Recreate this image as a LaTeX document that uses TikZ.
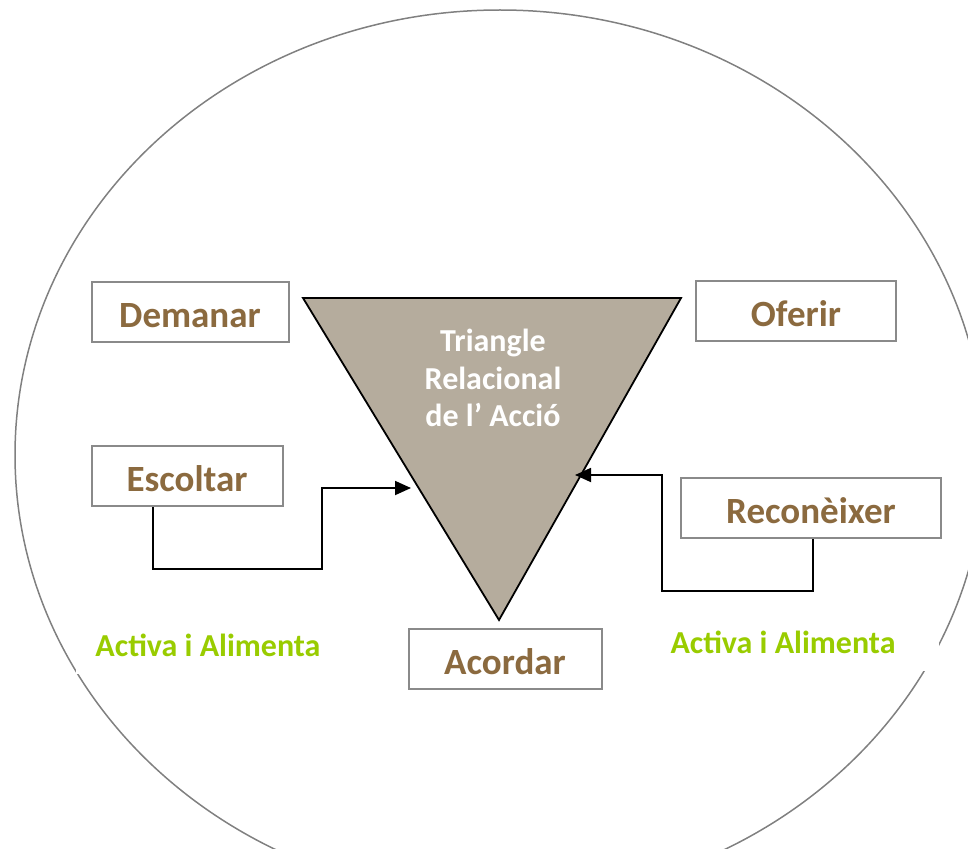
\documentclass[tikz,border=0pt]{standalone}
\usepackage{fontspec}
\setmainfont{Carlito}
\usepackage{tikz}
\usetikzlibrary{arrows.meta}
\definecolor{ringgray}{HTML}{808080}
\definecolor{boxgray}{HTML}{8A8A8A}
\definecolor{verbbrown}{HTML}{8B6A3F}
\definecolor{trifill}{HTML}{B5AC9D}
\definecolor{notegreen}{HTML}{99CC00}
\tikzset{
  edge/.style={draw=ringgray, line width=1.5pt},
  box/.style={draw=boxgray, fill=white, line width=2pt, minimum height=60pt, inner sep=0pt,
    text=verbbrown, font=\fontsize{37}{44}\selectfont\bfseries, text height=30pt, text depth=0pt},
  tri/.style={draw=black, fill=trifill, line width=1.8pt, line join=miter},
  title/.style={text=white, font=\fontsize{32}{37.5}\selectfont\bfseries, align=center, inner sep=0pt},
  note/.style={fill=white, text=notegreen, font=\fontsize{32}{38}\selectfont\bfseries, inner sep=0pt,
    minimum height=56pt, text height=21pt, text depth=0pt},
  flow/.style={draw=black, line width=1.8pt, -{Triangle[length=16pt,width=14pt]}},
}

\begin{document}
\begin{tikzpicture}[x=1pt,y=-1pt]
  \useasboundingbox (0,0) rectangle (968,848);
  \clip (0,0) rectangle (968,848);
  \draw[edge] (500,455) ellipse [x radius=485, y radius=445];
  % triangle
  \coordinate (tl) at (303,298);
  \coordinate (tr) at (681,298);
  \coordinate (tb) at (499,620);
  \draw[tri] (tl) -- (tr) -- (tb) -- cycle;
  \node[title] (tit) at (493,378) {Triangle\\Relacional\\de l’ Acció};
  % boxes
  \foreach \N/\T/\X/\Y/\W in {dem/Demanar/190/312/197, ofe/Oferir/796/311/200,
      esc/Escoltar/187/476/191, rec/Reconèixer/811/508/260, aco/Acordar/505/659/193}
    \node[box, minimum width=\W pt] (\N) at (\X,\Y) {\T};
  \node[note, minimum width=265pt] (actl) at (208,646) {Activa i Alimenta};
  \node[note, minimum width=312pt] (actr) at (783,643) {Activa i Alimenta};
  % arrows
  \coordinate (inl) at (411,488);
  \coordinate (inr) at (575,475);
  \draw[flow] ([xshift=-34pt]esc.south) |- (322,569) |- (inl);
  \draw[flow] ([xshift=2pt]rec.south) |- (662,591) |- (inr);
\end{tikzpicture}
\end{document}
